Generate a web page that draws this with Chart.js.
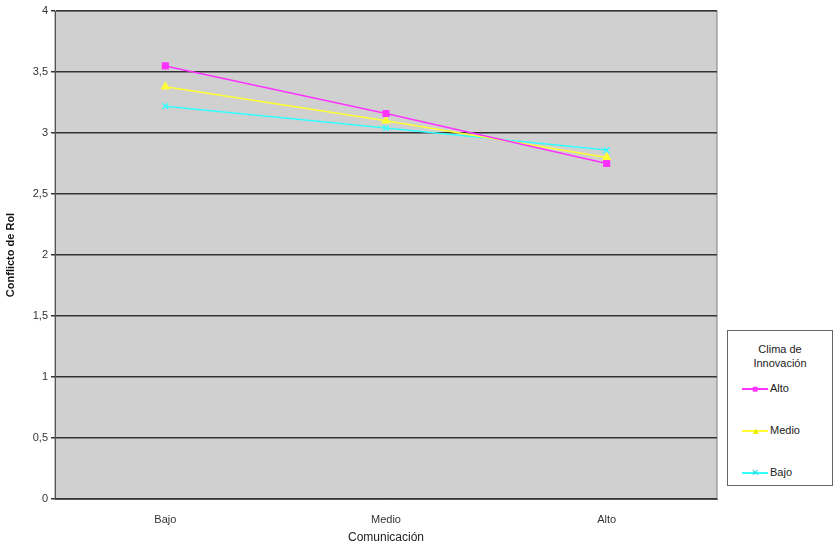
<!DOCTYPE html>
<html>
<head>
<meta charset="utf-8">
<script src="https://cdn.jsdelivr.net/npm/chart.js@4"></script>
<style>
body{margin:0;background:#fff;font-family:Arial,"Liberation Sans",sans-serif;}
#wrap{position:relative;width:839px;height:553px;}
#legend{position:absolute;left:727px;top:330px;width:104px;height:154px;border:1px solid #666;background:#fff;font-size:11px;color:#222;}
#legend .t{text-align:center;margin-top:11px;line-height:14px;}
#legend .r{position:absolute;left:14px;height:14px;line-height:14px;}
#legend .r span{display:inline-block;vertical-align:middle;width:26px;height:2px;margin-right:2px;position:relative;}
#legend .r span i{position:absolute;left:9px;top:-5px;width:8px;height:12px;font-style:normal;font-size:10px;line-height:12px;text-align:center;}
</style>
</head>
<body>
<div id="wrap">
<canvas id="myChart" width="839" height="553"></canvas>
<div id="legend">
  <div class="t">Clima de<br>Innovación</div>
  <div class="r" style="top:50px"><span style="background:#ff33ff"><i style="color:#ff33ff">■</i></span>Alto</div>
  <div class="r" style="top:92px"><span style="background:#ffff33"><i style="color:#eeee00">▲</i></span>Medio</div>
  <div class="r" style="top:134px"><span style="background:#33ffff"><i style="color:#22dddd">✕</i></span>Bajo</div>
</div>
</div>
<script>
var categories = ["Bajo", "Medio", "Alto"];
var alto = [3.55, 3.16, 2.75];
var medio = [3.38, 3.10, 2.80];
var bajo = [3.22, 3.04, 2.86];

var bgPlugin = {
  id: 'bg',
  beforeDraw: function(chart) {
    var a = chart.chartArea, c = chart.ctx;
    c.save();
    c.fillStyle = '#d0d0d0';
    c.fillRect(a.left, a.top, a.right - a.left, a.bottom - a.top);
    c.strokeStyle = '#808080';
    c.strokeRect(a.left, a.top, a.right - a.left, a.bottom - a.top);
    c.restore();
  }
};

new Chart("myChart", {
  type: "line",
  data: {
    labels: categories,
    datasets: [
      {label: "Alto", data: alto, borderColor: "#ff33ff", backgroundColor: "#ff33ff", pointStyle: "rect", pointRadius: 4, borderWidth: 1.5},
      {label: "Medio", data: medio, borderColor: "#ffff33", backgroundColor: "#ffff33", pointStyle: "triangle", pointRadius: 4, borderWidth: 1.5},
      {label: "Bajo", data: bajo, borderColor: "#33ffff", backgroundColor: "#33ffff", pointStyle: "crossRot", pointRadius: 4, borderWidth: 1.5}
    ]
  },
  plugins: [bgPlugin],
  options: {
    responsive: false,
    animation: false,
    layout: {padding: {top: 11, right: 122, bottom: 4}},
    plugins: {legend: {display: false}, tooltip: {enabled: false}},
    scales: {
      x: {
        offset: true,
        grid: {display: false},
        border: {color: '#555'},
        ticks: {color: '#333', font: {size: 11}, padding: 6},
        title: {display: true, text: "Comunicación", color: '#222', font: {size: 12}, padding: {top: 10}},
        afterFit: function(s) { s.height = 50; }
      },
      y: {
        min: 0, max: 4,
        ticks: {stepSize: 0.5, color: '#333', font: {size: 11},
          callback: function(v) { return String(v).replace('.', ','); }},
        grid: {color: '#333', lineWidth: 1.5, tickLength: 4},
        border: {color: '#555'},
        title: {display: true, text: "Conflicto de Rol", color: '#111', font: {size: 11, weight: 'bold'}},
        afterFit: function(s) { s.width = 55; }
      }
    }
  }
});
</script>
</body>
</html>
